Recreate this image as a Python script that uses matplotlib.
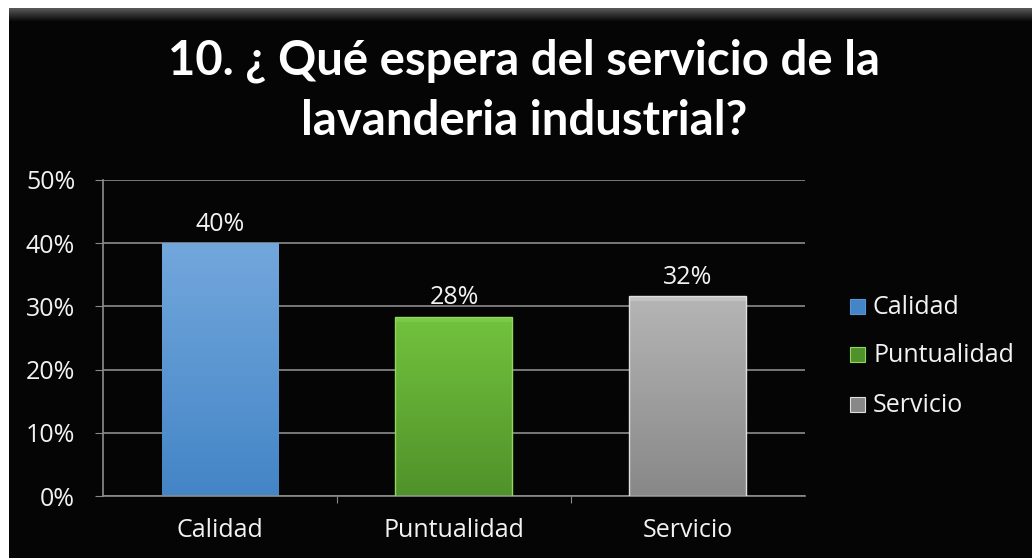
import matplotlib.pyplot as plt
import numpy as np
from matplotlib.colors import LinearSegmentedColormap
from matplotlib.patches import Rectangle
from matplotlib.ticker import PercentFormatter

categories = ["Calidad", "Puntualidad", "Servicio"]
values = [0.40, 0.284, 0.316]
y_ticks = [0.0, 0.1, 0.2, 0.3, 0.4, 0.5]
title = "10. ¿ Qué espera del servicio de la\nlavanderia industrial?"

# top, bottom colours of each bar gradient
bar_colors = [
    ("#72a7dc", "#4485c7"),
    ("#72c23e", "#50922a"),
    ("#b5b5b5", "#888888"),
]
edge_colors = ["#5a95d0", "#8fd85e", "#e0e0e0"]

plt.rcParams["font.family"] = ["Open Sans", "DejaVu Sans"]
label_size = 18

fig = plt.figure(figsize=(10.32, 5.58), dpi=100, facecolor="white")

# black chart frame with a faint bevel along the top
fig.patches.append(Rectangle((9 / 1032, 0), 1, 550 / 558, transform=fig.transFigure,
                             facecolor="#050505", edgecolor="none", zorder=-10))
bevel = np.linspace(0.35, 0.02, 30).reshape(-1, 1)
bevel_ax = fig.add_axes([9 / 1032, 536 / 558, 1 - 9 / 1032, 14 / 558])
bevel_ax.imshow(bevel, cmap="gray", vmin=0, vmax=1, aspect="auto")
bevel_ax.axis("off")

ax = fig.add_axes([103 / 1032, (558 - 496) / 558, (805 - 103) / 1032, 316 / 558])
ax.set_facecolor("#050505")

x = np.arange(len(categories))
width = 0.5
for i, (val, (top, bottom)) in enumerate(zip(values, bar_colors)):
    cmap = LinearSegmentedColormap.from_list(f"bar{i}", [bottom, top])
    grad = np.linspace(1, 0, 100).reshape(-1, 1)
    left = x[i] - width / 2
    img = ax.imshow(grad, cmap=cmap, vmin=0, vmax=1, aspect="auto",
                    extent=(left, left + width, 0, val), zorder=2)
    rect = Rectangle((left, 0), width, val, facecolor="none",
                     edgecolor=edge_colors[i] if i else "none", linewidth=1.0, zorder=3)
    ax.add_patch(rect)
    img.set_clip_path(rect)
    if i:
        # light bevel on the top edge
        ax.add_patch(Rectangle((left, val - 0.008), width, 0.008,
                               facecolor=edge_colors[i], alpha=0.35,
                               edgecolor="none", zorder=3))
    ax.text(x[i], val + 0.01, f"{val:.0%}", ha="center", va="bottom",
            color="#f2f2f2", fontsize=label_size)

ax.set_xlim(-0.5, len(categories) - 0.5)
ax.set_ylim(0, 0.5)
ax.set_yticks(y_ticks)
ax.yaxis.set_major_formatter(PercentFormatter(1.0, decimals=0))
ax.set_xticks([0.5, 1.5])
ax.set_xticklabels([])
ax.tick_params(axis="x", length=5, color="#888888", direction="out")
ax.tick_params(axis="y", length=6, color="#888888", labelcolor="#f2f2f2",
               labelsize=label_size, pad=14)
ax.grid(axis="y", color="#8c8c8c", linewidth=1.2, zorder=1)
ax.set_axisbelow(True)
for i, cat in enumerate(categories):
    ax.text(x[i], -0.035, cat, ha="center", va="top", color="#f2f2f2",
            fontsize=label_size)
for side in ["top", "right"]:
    ax.spines[side].set_visible(False)
for side in ["left", "bottom"]:
    ax.spines[side].set_color("#8c8c8c")
    ax.spines[side].set_linewidth(1.2)

# legend drawn as text entries with colour squares
legend_y = [307, 355, 405]
for i, cat in enumerate(categories):
    yy = 1 - legend_y[i] / 558
    fig.patches.append(Rectangle((850 / 1032, yy - 7 / 558), 15 / 1032, 15 / 558,
                                 transform=fig.transFigure, facecolor=bar_colors[i][1],
                                 edgecolor=edge_colors[i], linewidth=0.8, zorder=3))
    fig.text(873 / 1032, yy, cat, ha="left", va="center", color="#f2f2f2",
             fontsize=label_size)

fig.text(0.508, 1 - 91 / 558, title, ha="center", va="center", color="white",
         fontsize=34, fontweight="bold", family=["Lato", "DejaVu Sans"],
         linespacing=1.45)

fig.savefig("out.png", dpi=100, facecolor="white")
